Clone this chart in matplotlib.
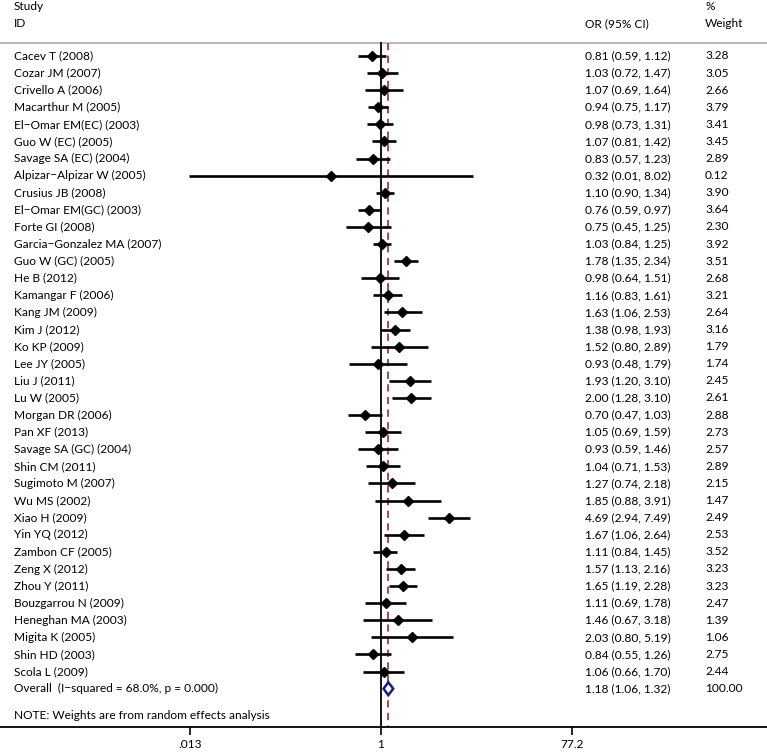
import numpy as np
import matplotlib
matplotlib.use("Agg")
import matplotlib.pyplot as plt
import matplotlib.transforms as mtransforms

plt.rcParams['font.family'] = ['Lato', 'DejaVu Sans']

studies = ["Cacev T (2008)", "Cozar JM (2007)", "Crivello A (2006)", "Macarthur M (2005)",
           "El\u2212Omar EM(EC) (2003)", "Guo W (EC) (2005)", "Savage SA (EC) (2004)",
           "Alpizar\u2212Alpizar W (2005)", "Crusius JB (2008)", "El\u2212Omar EM(GC) (2003)",
           "Forte GI (2008)", "Garcia\u2212Gonzalez MA (2007)", "Guo W (GC) (2005)", "He B (2012)",
           "Kamangar F (2006)", "Kang JM (2009)", "Kim J (2012)", "Ko KP (2009)", "Lee JY (2005)",
           "Liu J (2011)", "Lu W (2005)", "Morgan DR (2006)", "Pan XF (2013)",
           "Savage SA (GC) (2004)", "Shin CM (2011)", "Sugimoto M (2007)", "Wu MS (2002)",
           "Xiao H (2009)", "Yin YQ (2012)", "Zambon CF (2005)", "Zeng X (2012)", "Zhou Y (2011)",
           "Bouzgarrou N (2009)", "Heneghan MA (2003)", "Migita K (2005)", "Shin HD (2003)",
           "Scola L (2009)"]
odds = [0.81, 1.03, 1.07, 0.94, 0.98, 1.07, 0.83, 0.32, 1.10, 0.76, 0.75, 1.03, 1.78, 0.98,
        1.16, 1.63, 1.38, 1.52, 0.93, 1.93, 2.00, 0.70, 1.05, 0.93, 1.04, 1.27, 1.85, 4.69,
        1.67, 1.11, 1.57, 1.65, 1.11, 1.46, 2.03, 0.84, 1.06]
ci_low = [0.59, 0.72, 0.69, 0.75, 0.73, 0.81, 0.57, 0.0128, 0.90, 0.59, 0.45, 0.84, 1.35, 0.64,
          0.83, 1.06, 0.98, 0.80, 0.48, 1.20, 1.28, 0.47, 0.69, 0.59, 0.71, 0.74, 0.88, 2.94,
          1.06, 0.84, 1.13, 1.19, 0.69, 0.67, 0.80, 0.55, 0.66]
ci_high = [1.12, 1.47, 1.64, 1.17, 1.31, 1.42, 1.23, 8.02, 1.34, 0.97, 1.25, 1.25, 2.34, 1.51,
           1.61, 2.53, 1.93, 2.89, 1.79, 3.10, 3.10, 1.03, 1.59, 1.46, 1.53, 2.18, 3.91, 7.49,
           2.64, 1.45, 2.16, 2.28, 1.78, 3.18, 5.19, 1.26, 1.70]
weights = [3.28, 3.05, 2.66, 3.79, 3.41, 3.45, 2.89, 0.12, 3.90, 3.64, 2.30, 3.92, 3.51, 2.68,
           3.21, 2.64, 3.16, 1.79, 1.74, 2.45, 2.61, 2.88, 2.73, 2.57, 2.89, 2.15, 1.47, 2.49,
           2.53, 3.52, 3.23, 3.23, 2.47, 1.39, 1.06, 2.75, 2.44]
overall = [1.18, 1.06, 1.32]
tick_vals = [0.013, 1, 77.2]
tick_labels = [".013", "1", "77.2"]

fig = plt.figure(figsize=(7.67, 7.54), dpi=100)
ax = fig.add_axes([0, 27 / 754, 1, 727 / 754])
ax.set_xscale("log")
ax.set_xlim(np.exp(-8.667), np.exp(8.78))
ax.set_ylim(39.24, -3.27)

n = len(studies)
rows = np.arange(n)
trans = mtransforms.blended_transform_factory(ax.transAxes, ax.transData)
fs = 8.6
x_id = 14 / 767
x_or = 585 / 767
x_w = 705 / 767

# header
ax.text(x_id, -2.87, "Study", transform=trans, fontsize=fs, va="center")
ax.text(x_id, -1.87, "ID", transform=trans, fontsize=fs, va="center")
ax.text(x_or, -1.87, "OR (95% CI)", transform=trans, fontsize=fs, va="center")
ax.text(x_w, -2.87, "%", transform=trans, fontsize=fs, va="center")
ax.text(x_w, -1.87, "Weight", transform=trans, fontsize=fs, va="center")
ax.plot([0, 1], [-0.76, -0.76], transform=trans, color="#bbbbbb", lw=1.5, clip_on=False)

# reference lines
ax.plot([1, 1], [-0.76, 39.24], color="black", lw=1.3)
ax.plot([overall[0], overall[0]], [-0.76, 39.24], color="#a33a3f", lw=1.3, ls=(0, (4, 3)))

# studies
for i in range(n):
    ax.plot([ci_low[i], ci_high[i]], [rows[i], rows[i]], color="black", lw=1.9,
            solid_capstyle="butt")
    ax.plot(odds[i], rows[i], marker="D", color="black", ms=4.8)
    ax.text(x_id, rows[i], studies[i], transform=trans, fontsize=fs, va="center")
    ax.text(x_or, rows[i], "%.2f (%.2f, %.2f)" % (odds[i], ci_low[i], ci_high[i]),
            transform=trans, fontsize=fs, va="center")
    ax.text(x_w, rows[i], "%.2f" % weights[i], transform=trans, fontsize=fs, va="center")

# overall diamond
yo = n
dx = [overall[1], overall[0], overall[2], overall[0], overall[1]]
dy = [yo, yo - 0.38, yo, yo + 0.38, yo]
ax.fill(dx, dy, facecolor="white", edgecolor="#1a1a80", lw=1.8, zorder=5)
ax.text(x_id, yo, "Overall  (I\u2212squared = 68.0%, p = 0.000)", transform=trans,
        fontsize=fs, va="center")
ax.text(x_or, yo, "%.2f (%.2f, %.2f)" % tuple(overall), transform=trans, fontsize=fs, va="center")
ax.text(x_w, yo, "100.00", transform=trans, fontsize=fs, va="center")
ax.text(x_id, 38.55, "NOTE: Weights are from random effects analysis", transform=trans,
        fontsize=fs, va="center")

for s in ["top", "left", "right"]:
    ax.spines[s].set_visible(False)
ax.spines["bottom"].set_linewidth(1.3)
ax.set_yticks([])
ax.set_xticks(tick_vals)
ax.set_xticklabels(tick_labels, fontsize=fs)
ax.xaxis.set_minor_locator(matplotlib.ticker.NullLocator())
ax.tick_params(axis="x", direction="out", length=6, width=1.2, pad=3)

fig.savefig("out.png", dpi=100)
